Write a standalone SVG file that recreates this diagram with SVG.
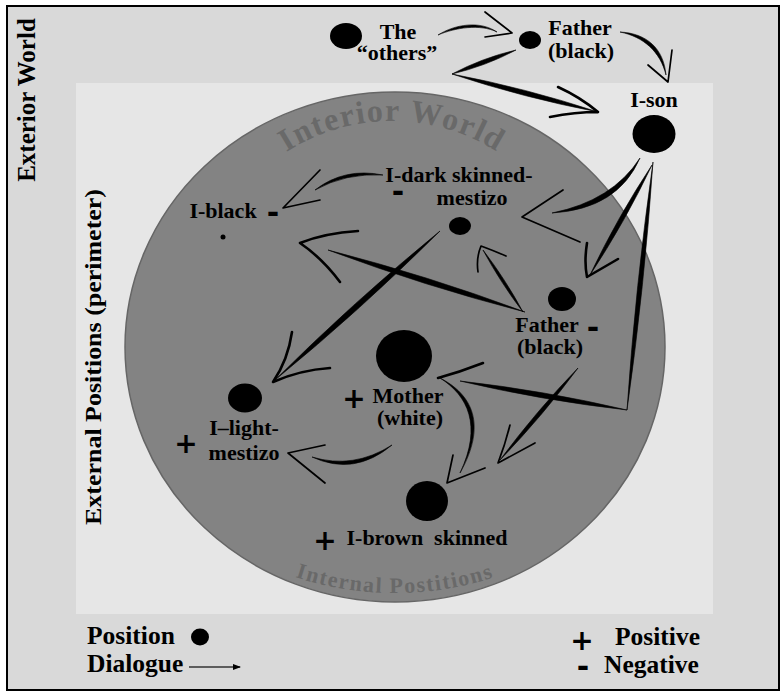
<svg xmlns="http://www.w3.org/2000/svg" width="781" height="697" viewBox="0 0 781 697">
<style>
.lbl{font-family:"Liberation Serif","Times New Roman",serif;font-weight:bold;font-size:22px;fill:#000;text-anchor:middle}
.leg{font-family:"Liberation Serif","Times New Roman",serif;font-weight:bold;font-size:25.5px;fill:#000}
.pl{font-family:"DejaVu Sans",sans-serif;font-weight:bold;font-size:28px;fill:#000;text-anchor:middle}
.mi{font-family:"DejaVu Sans",sans-serif;font-weight:bold;font-size:30px;fill:#000;text-anchor:middle}
.arc{font-family:"Liberation Serif","Times New Roman",serif;font-weight:bold;fill:#696969}
.dot{fill:#000}
.br{fill:#000;stroke:#000;stroke-width:0.6;stroke-linejoin:round}
.s{fill:none;stroke:#000;stroke-linecap:round;stroke-linejoin:round}
.t3{stroke-width:2.6}
.t2{stroke-width:1.7}
</style>
<defs>
<path id="topArc" d="M197,316 A195,195 0 0 1 587,316"/>
<path id="botArc" d="M75,273 A320,320 0 0 0 715,273"/>
<marker id="legArrow" markerWidth="8" markerHeight="8" refX="7" refY="4" orient="auto" markerUnits="userSpaceOnUse">
<path d="M0,1 L8,4 L0,7 Z" fill="#000"/>
</marker>
</defs>
<g id="background">
<rect x="7" y="6" width="772" height="684" fill="#d9d9d9" stroke="#000" stroke-width="2"/>
<rect x="76" y="83" width="637" height="531" fill="#e6e6e6"/>
<ellipse cx="395" cy="347" rx="270" ry="255" fill="#838383" stroke="#666" stroke-width="1.5"/>
<text class="arc" style="font-size:32px" letter-spacing="1.5"><textPath href="#topArc" startOffset="50%" text-anchor="middle">Interior World</textPath></text>
<text class="arc" style="font-size:22px" letter-spacing="1.5"><textPath href="#botArc" startOffset="50%" text-anchor="middle">Internal Postitions</textPath></text>
<text class="lbl" style="font-size:25px" transform="translate(35,100) rotate(-90)">Exterior World</text>
<text class="lbl" style="font-size:23px" transform="translate(101,357) rotate(-90)" textLength="336" lengthAdjust="spacingAndGlyphs">External Positions (perimeter)</text>
</g>
<g id="connectors">
<path class="br" d="M438,35 C455.1,27.7 480.1,23.7 497,32 C479.9,20.3 454.9,24.3 438,35Z"/>
<path class="s t2" d="M485,12 L512,33 L485,37"/>
<path class="br" d="M620,32 C643.4,36.7 660.4,51.7 666,75 C663.6,48.3 646.6,33.3 620,32Z"/>
<path class="s t2" d="M648,65 L668,82 L672,50"/>
<path class="br" d="M516,50 Q482.4,57.8 452,74 Q485.6,66.2 516,50Z"/>
<path class="br" d="M452,74 Q523.7,97.8 598,112 Q526.3,88.2 452,74Z"/>
<path class="s t3" d="M558,87 Q580,97 598,112 M550,117 Q575,112 598,112"/>
<path class="br" d="M640,158 Q612.4,200.8 552,213 Q617.7,209.2 640,158Z"/>
<path class="s t2" d="M563,190 L522,217 L580,242"/>
<path class="br" d="M652,165 Q617.1,217.8 590,275 Q624.9,222.2 652,165Z"/>
<path class="s t3" d="M587,243 Q584,262 587,277 L618,259"/>
<path class="br" d="M653,162 Q635.5,285.5 627,410 Q644.5,286.5 653,162Z"/>
<path class="br" d="M627,410 Q544.4,390.6 460,381 Q542.6,400.4 627,410Z"/>
<path class="s t3" d="M483,363 Q460,372 438,378"/>
<path class="br" d="M525,312 Q428.2,275.8 328,250 Q424.9,286.2 525,312Z"/>
<path class="s t3" d="M358,231 Q325,233 300,243 Q322,258 340,282"/>
<path class="br" d="M523,312 Q505.5,279.4 483,250 Q500.5,282.6 523,312Z"/>
<path class="s t2" d="M506,256 Q492,250 481,246 Q476,258 478,272"/>
<path class="br" d="M440,231 Q353.8,301.4 275,380 Q361.2,309.6 440,231Z"/>
<path class="s t3" d="M292,332 Q288,360 273,382 Q300,370 330,368"/>
<path class="br" d="M383,175 Q344.4,167.1 315,190 Q345.6,172.9 383,175Z"/>
<path class="s t2" d="M320,170 L283,208 L320,200"/>
<path class="br" d="M392,445 Q353.5,469.5 312,457 Q354.5,476.5 392,445Z"/>
<path class="s t2" d="M325,445 L288,453 L325,483"/>
<path class="br" d="M440,378 C467.7,395.5 482.7,425.5 460,473 C487.3,424.5 472.3,394.5 440,378Z"/>
<path class="s t2" d="M453,455 L447,483 L485,468"/>
<path class="br" d="M578,368 Q536,411.4 500,460 Q542,416.6 578,368Z"/>
<path class="s t2" d="M510,425 Q505,445 498,463 L535,443"/>
</g>
<g id="n-others">
<ellipse class="dot" cx="346" cy="36" rx="16" ry="13"/>
<text class="lbl" x="398" y="39">The</text>
<text class="lbl" x="397" y="60">“others”</text>
</g>
<g id="n-father-ext">
<ellipse class="dot" cx="530" cy="40" rx="11" ry="9"/>
<text class="lbl" x="580" y="35">Father</text>
<text class="lbl" x="581" y="58">(black)</text>
</g>
<g id="n-ison">
<ellipse class="dot" cx="654" cy="134" rx="21.5" ry="19"/>
<text class="lbl" x="654" y="107">I-son</text>
</g>
<g id="n-idark">
<ellipse class="dot" cx="460" cy="226" rx="11" ry="9"/>
<text class="lbl" x="459" y="182">I-dark skinned-</text>
<text class="lbl" x="472" y="205">mestizo</text>
<text class="mi" x="398" y="202">-</text>
</g>
<g id="n-iblack">
<circle class="dot" cx="223" cy="237" r="2.5"/>
<text class="lbl" x="223" y="218">I-black</text>
<text class="mi" x="273" y="223">-</text>
</g>
<g id="n-father-int">
<ellipse class="dot" cx="562" cy="299" rx="14" ry="12"/>
<text class="lbl" x="547" y="332">Father</text>
<text class="lbl" x="550" y="354">(black)</text>
<text class="mi" x="593" y="338">-</text>
</g>
<g id="n-mother">
<ellipse class="dot" cx="404" cy="356" rx="28" ry="26"/>
<text class="lbl" x="408" y="403">Mother</text>
<text class="lbl" x="410" y="425">(white)</text>
<text class="pl" x="354" y="408">+</text>
</g>
<g id="n-ilight">
<ellipse class="dot" cx="245" cy="398" rx="17" ry="14.5"/>
<text class="lbl" x="244" y="435">I–light-</text>
<text class="lbl" x="244" y="460">mestizo</text>
<text class="pl" x="186" y="453">+</text>
</g>
<g id="n-ibrown">
<ellipse class="dot" cx="427" cy="501" rx="21" ry="20"/>
<text class="lbl" x="427" y="545" xml:space="preserve">I-brown  skinned</text>
<text class="pl" x="325" y="550">+</text>
</g>
<g id="legend">
<text class="leg" x="87" y="644">Position</text>
<ellipse class="dot" cx="200" cy="637" rx="9" ry="8.5"/>
<text class="leg" x="87" y="672">Dialogue</text>
<line x1="189" y1="667" x2="240" y2="667" stroke="#333" stroke-width="1.5" marker-end="url(#legArrow)"/>
<text class="pl" x="582" y="650">+</text>
<text class="leg" x="615" y="645">Positive</text>
<text class="mi" x="583" y="677">-</text>
<text class="leg" x="604" y="673">Negative</text>
</g>
</svg>
